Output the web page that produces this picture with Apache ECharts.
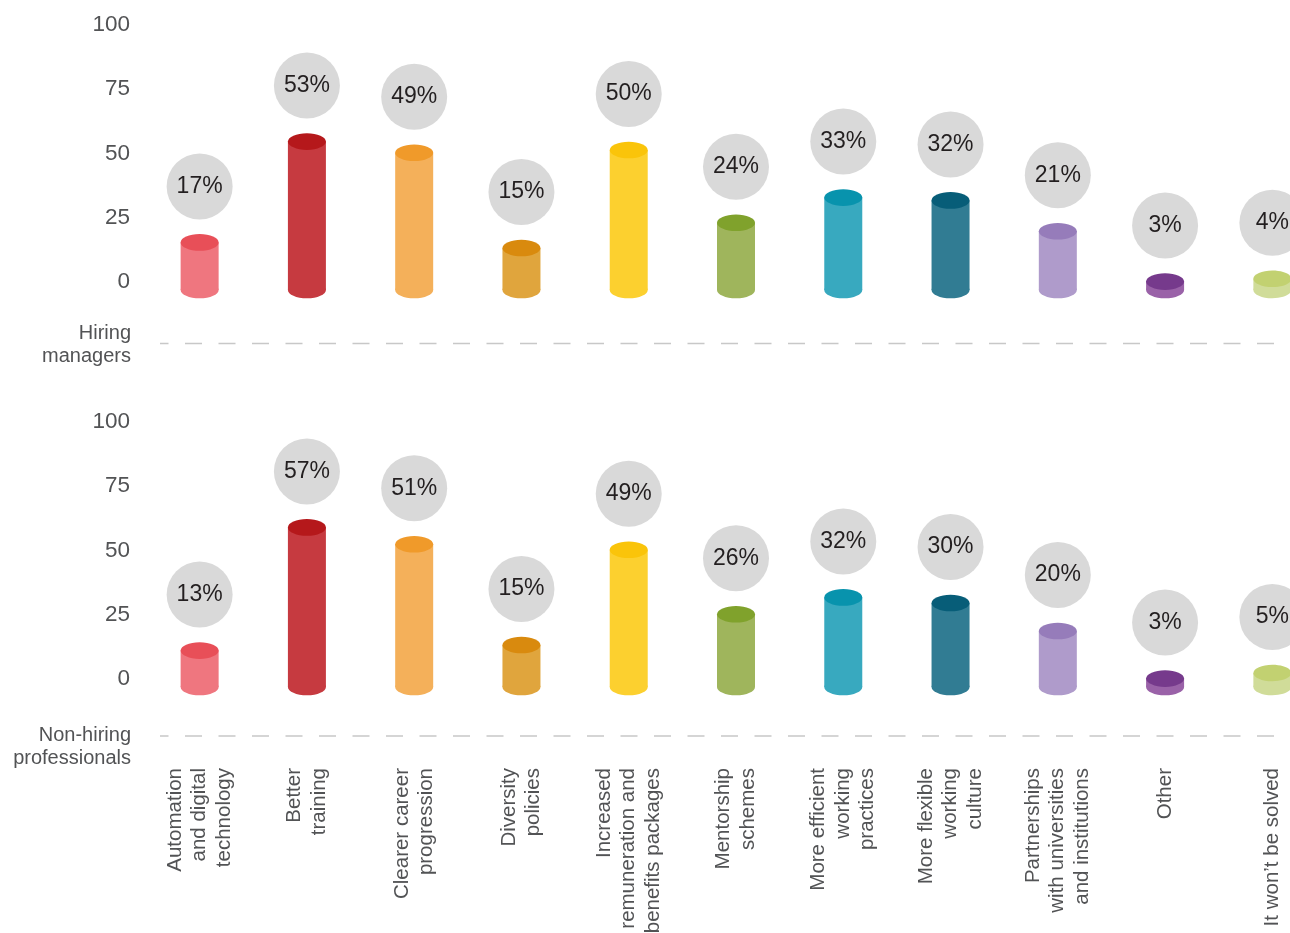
<!DOCTYPE html>
<html><head><meta charset="utf-8">
<script src="https://cdn.jsdelivr.net/npm/echarts@6/dist/echarts.min.js"></script>
<style>html,body{margin:0;padding:0;background:#fff}#c{width:1290px;height:933px}</style>
</head><body><div id="c"></div><script>
const categories = [
  'Automation\nand digital\ntechnology',
  'Better\ntraining',
  'Clearer career\nprogression',
  'Diversity\npolicies',
  'Increased\nremuneration and\nbenefits packages',
  'Mentorship\nschemes',
  'More efficient\nworking\npractices',
  'More flexible\nworking\nculture',
  'Partnerships\nwith universities\nand institutions',
  'Other',
  'It won\u2019t be solved'
];
const hiringManagers = [17, 53, 49, 15, 50, 24, 33, 32, 21, 3, 4];
const nonHiringProfessionals = [13, 57, 51, 15, 49, 26, 32, 30, 20, 3, 5];
const groupLabels = ['Hiring\nmanagers', 'Non-hiring\nprofessionals'];
const yTickValues = [0, 25, 50, 75, 100];

const bodyColors = ['#ef767f','#c63a40','#f4b05a','#e0a53d','#fcd02f','#9fb55c','#38a9bf','#317c93','#af9bcb','#9a62a8','#d0dc99'];
const topColors  = ['#e84f58','#b5181b','#f09a2a','#d98a0e','#fac40a','#80a22c','#0893ad','#075d78','#967cba','#763a8c','#c2d171'];

const FONT = '"Liberation Sans", Arial, Helvetica, sans-serif';
const TXT = '#525355';

function renderCyl(params, api) {
  const i = api.value(0), v = api.value(1);
  const top = api.coord([i, v]);
  const base = api.coord([i, 0]);
  const rx = 19, ry = 8.3, cx = top[0];
  return {
    type: 'group',
    children: [
      { type: 'ellipse', shape: { cx: cx, cy: base[1], rx: rx, ry: ry }, style: { fill: bodyColors[i] } },
      { type: 'rect', shape: { x: cx - rx, y: top[1], width: 2 * rx, height: base[1] - top[1] }, style: { fill: bodyColors[i] } },
      { type: 'ellipse', shape: { cx: cx, cy: top[1], rx: rx, ry: ry }, style: { fill: topColors[i] } },
      { type: 'circle', shape: { cx: cx, cy: top[1] - 56, r: 33 }, style: { fill: '#d9d9d9' } },
      { type: 'text', style: { x: cx, y: top[1] - 56, text: v + '%', align: 'center', verticalAlign: 'middle', fill: '#231f20', fontSize: 23, fontFamily: FONT } }
    ]
  };
}

const grids = [
  { left: 146, width: 1180, top: 25, height: 257, outerBoundsMode: 'none', containLabel: false },
  { left: 146, width: 1180, top: 422, height: 257, outerBoundsMode: 'none', containLabel: false }
];

// hidden bar scale: value 0 sits 8px below the grid bottom, 2.8 px per unit
const yAxes = [];
[0, 1].forEach(g => {
  yAxes.push({
    type: 'value', gridIndex: g, min: yTickValues[0], max: yTickValues[yTickValues.length - 1], interval: 25,
    axisLine: { show: false }, axisTick: { show: false }, splitLine: { show: false },
    axisLabel: { color: TXT, fontSize: 22.5, fontFamily: FONT, margin: 16, padding: [4, 0, 0, 0] }
  });
  yAxes.push({ type: 'value', gridIndex: g, min: 8 / 2.8, max: 265 / 2.8, show: false });
});

const option = {
  animation: false,
  backgroundColor: '#ffffff',
  grid: grids,
  xAxis: [
    { type: 'category', gridIndex: 0, data: categories, show: false },
    { type: 'category', gridIndex: 1, data: categories,
      axisLine: { show: false }, axisTick: { show: false },
      axisLabel: { interval: 0, rotate: 90, margin: 89, color: TXT, fontSize: 20.5, lineHeight: 24.5, fontFamily: FONT, padding: [0, 0, 0, 0] } }
  ],
  yAxis: yAxes,
  series: [
    { type: 'custom', xAxisIndex: 0, yAxisIndex: 1, clip: false, renderItem: renderCyl, data: hiringManagers.map((v, i) => [i, v]) },
    { type: 'custom', xAxisIndex: 1, yAxisIndex: 3, clip: false, renderItem: renderCyl, data: nonHiringProfessionals.map((v, i) => [i, v]) }
  ],
  graphic: [
    { type: 'line', shape: { x1: 160, y1: 343.5, x2: 1275, y2: 343.5 }, style: { stroke: '#c8c8c8', lineWidth: 1.5, lineDash: [17, 16.5], lineDashOffset: 8.5 } },
    { type: 'line', shape: { x1: 160, y1: 736, x2: 1275, y2: 736 }, style: { stroke: '#c8c8c8', lineWidth: 1.5, lineDash: [17, 16.5], lineDashOffset: 8.5 } },
    { type: 'text', x: 131, y: 345, style: { text: groupLabels[0], align: 'right', verticalAlign: 'middle', fill: TXT, fontSize: 20, lineHeight: 23, fontFamily: FONT } },
    { type: 'text', x: 131, y: 747, style: { text: groupLabels[1], align: 'right', verticalAlign: 'middle', fill: TXT, fontSize: 20, lineHeight: 23, fontFamily: FONT } }
  ]
};

const chart = echarts.init(document.getElementById('c'), null, { renderer: 'canvas' });
chart.setOption(option);
</script></body></html>
